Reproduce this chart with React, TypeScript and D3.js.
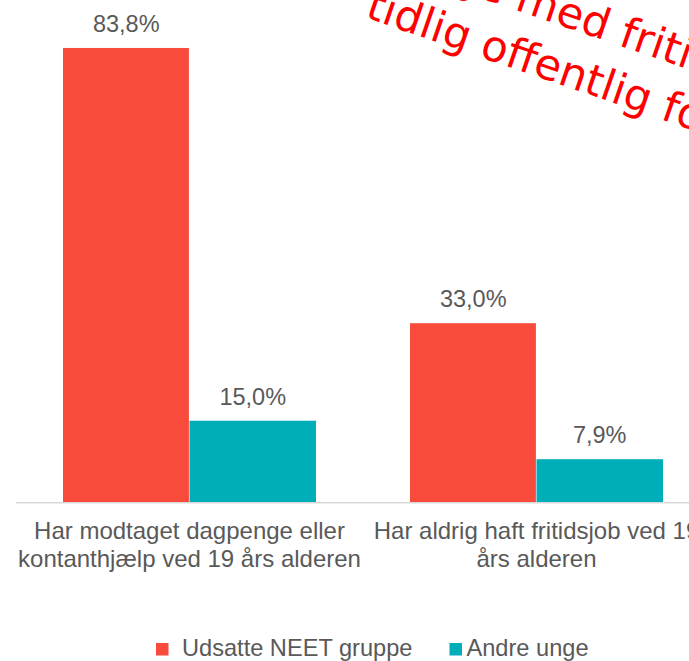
import React from "react";
import * as d3 from "d3";

const categories = ["cat1", "cat2"];
const categoryLines = [
  ["Har modtaget dagpenge eller", "kontanthjælp ved 19 års alderen"],
  ["Har aldrig haft fritidsjob ved 19", "års alderen"],
];
const seriesNames = ["Udsatte NEET gruppe", "Andre unge"];
const seriesColors = ["#F84B3C", "#00AEBA"];
const udsatteValues = [83.8, 33.0];
const andreValues = [15.0, 7.9];
const valueLabels = [
  ["83,8%", "33,0%"],
  ["15,0%", "7,9%"],
];
const watermarkLines = ["Unge med fritidsjob", "tidlig offentlig forsørgelse"];

const W = 689;
const H = 661;
const FONT = "'Liberation Sans', Arial, sans-serif";
const TEXT = "#595959";

export default function App() {
  const seriesValues = [udsatteValues, andreValues];
  const x = d3.scaleBand<string>().domain(categories).range([16, 710]).padding(0);
  const inner = d3
    .scaleBand<string>()
    .domain(seriesNames)
    .range([47, x.bandwidth() - 47])
    .padding(0);
  const y = d3.scaleLinear().domain([0, 90]).range([502, 502 - 90 * 5.418]);

  return (
    <svg
      width={W}
      height={H}
      style={{ position: "absolute", left: 0, top: 0, display: "block", background: "#fff" }}
      fontFamily={FONT}
    >
      <rect x={0} y={0} width={W} height={H} fill="#fff" />
      {categories.map((c, ci) => (
        <g key={c} transform={`translate(${x(c)},0)`}>
          {seriesNames.map((s, si) => {
            const v = seriesValues[si][ci];
            const bx = inner(s)!;
            return (
              <g key={s}>
                <rect
                  x={bx}
                  y={y(v)}
                  width={inner.bandwidth() - (si === 0 ? 0.6 : 0)}
                  height={y(0) - y(v)}
                  fill={seriesColors[si]}
                />
                <text
                  x={bx + inner.bandwidth() / 2}
                  y={y(v) - 16}
                  textAnchor="middle"
                  fontSize={23.5}
                  fill={TEXT}
                >
                  {valueLabels[si][ci]}
                </text>
              </g>
            );
          })}
          {categoryLines[ci].map((line, li) => (
            <text
              key={li}
              x={x.bandwidth() / 2}
              y={538.5 + li * 28.5}
              textAnchor="middle"
              fontSize={24}
              fill={TEXT}
            >
              {line}
            </text>
          ))}
        </g>
      ))}
      <line x1={16} x2={710} y1={502.7} y2={502.7} stroke="#D9D9D9" strokeWidth={1.5} />

      {/* legend */}
      {seriesNames.map((s, si) => {
        const lx = [156, 449.5][si];
        return (
          <g key={s}>
            <rect x={lx} y={643} width={12.5} height={12.5} fill={seriesColors[si]} />
            <text x={lx + [26, 17][si]} y={656} fontSize={23.6} fill={TEXT}>
              {s}
            </text>
          </g>
        );
      })}

      {/* watermark */}
      <g
        transform="translate(364,17) rotate(19)"
        fontFamily="'DejaVu Sans', sans-serif"
        fontSize={43}
        fill="#FF0000"
      >
        <text x={13} y={-56}>
          {watermarkLines[0]}
        </text>
        <text x={0} y={0}>
          {watermarkLines[1]}
        </text>
      </g>
    </svg>
  );
}
